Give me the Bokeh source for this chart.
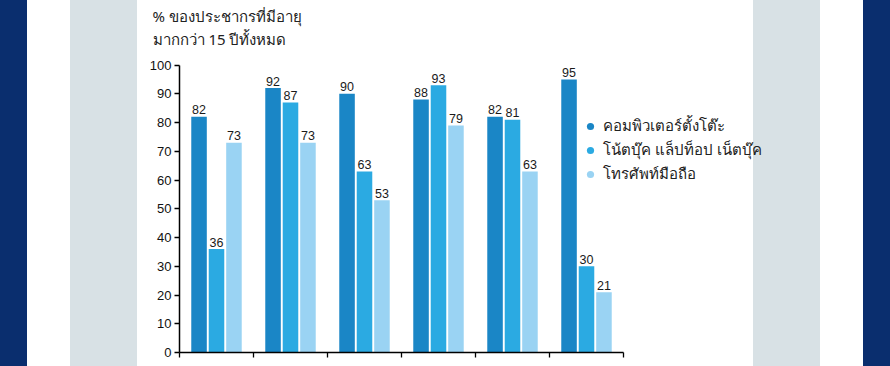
from bokeh.plotting import figure
from bokeh.models import (ColumnDataSource, FixedTicker, Legend, LegendItem, Title,
                          GlobalInlineStyleSheet, Range1d, CustomLabelingPolicy)
from bokeh.core.properties import value
from bokeh.embed import file_html
from bokeh.resources import INLINE

# ---- data ----
groups = ["1", "2", "3", "4", "5", "6"]          # category labels are cut off in the reference
series_names = ["คอมพิวเตอร์ตั้งโต๊ะ", "โน้ตบุ๊ค แล็ปท็อป เน็ตบุ๊ค", "โทรศัพท์มือถือ"]
desktop = [82, 92, 90, 88, 82, 95]
notebook = [36, 87, 63, 93, 81, 30]
mobile = [73, 73, 53, 79, 63, 21]
y_ticks = [0, 10, 20, 30, 40, 50, 60, 70, 80, 90, 100]
title_lines = ["% ของประชากรที่มีอายุ", "มากกว่า 15 ปีทั้งหมด"]

colors = ["#1a86c6", "#2baae2", "#9ad3f3"]
offsets = [-0.236, 0.0, 0.236]
bar_w = 0.21

W, H = 880, 362
px_per_cat = 74.0
frame_left = 179
frame_bottom = 352
frame_top = 50.4        # top of frame below the two title lines
px_per_unit = 2.87
x_end = (W - frame_left) / px_per_cat
y_end = (frame_bottom - frame_top) / px_per_unit

css = ("body{background:linear-gradient(to right,#0a2e6e 0px,#0a2e6e 27px,#ffffff 27px,#ffffff 70px,"
       "#d8e1e5 70px,#d8e1e5 137px,#ffffff 137px,#ffffff 753px,#d8e1e5 753px,#d8e1e5 820px,"
       "#ffffff 820px,#ffffff 863px,#0a2e6e 863px);}")

p = figure(width=W, height=H, output_backend="svg", toolbar_location=None,
           x_range=Range1d(0, x_end), y_range=Range1d(0, y_end),
           min_border_left=frame_left, min_border_right=0, min_border_top=0,
           min_border_bottom=H - frame_bottom)
p.stylesheets = [GlobalInlineStyleSheet(css=css)]
p.border_fill_color = None
p.background_fill_color = None
p.outline_line_color = None
p.grid.visible = False

font_num = "Liberation Sans"
font_thai = "Noto Sans"

renderers = []
for k, (vals, col) in enumerate(zip([desktop, notebook, mobile], colors)):
    src = ColumnDataSource(dict(
        x=[i + 0.5 + offsets[k] for i in range(len(groups))],
        top=vals,
        lbl=[str(v) for v in vals],
    ))
    p.vbar(x="x", top="top", width=bar_w, source=src, fill_color=col, line_color=None)
    p.text(x="x", y="top", text="lbl", source=src, text_align="center", text_baseline="bottom",
           y_offset=-2.5, text_font=value(font_num), text_font_size="12.5px", text_color="#1a1a1a")
    # zero-size markers: only used to give the legend its round swatches
    r = p.scatter(x="x", y="top", source=src, size=0, marker="circle",
                  fill_color=col, line_color=None)
    renderers.append(r)

legend = Legend(items=[LegendItem(label=n, renderers=[r]) for n, r in zip(series_names, renderers)],
                location=(402, 166), orientation="vertical",
                glyph_width=18, glyph_height=18, label_height=18, spacing=0,
                label_standoff=4, padding=0, margin=0,
                border_line_color=None, background_fill_alpha=0,
                label_text_font=font_thai, label_text_font_size="15px", label_text_color="#222222")
p.add_layout(legend)

# axes
ya = p.yaxis[0]
ya.ticker = FixedTicker(ticks=y_ticks)
ya.bounds = (0, 100)
ya.axis_line_color = "#000000"
ya.axis_line_width = 1.5
ya.major_tick_line_color = "#000000"
ya.major_tick_line_width = 1.3
ya.major_tick_in = 0
ya.major_tick_out = 5
ya.minor_tick_line_color = None
ya.major_label_standoff = 3
ya.major_label_text_font = font_num
ya.major_label_text_font_size = "13px"
ya.major_label_text_color = "#111111"

xa = p.xaxis[0]
xa.ticker = FixedTicker(ticks=list(range(len(groups) + 1)))
xa.bounds = (0, len(groups))
xa.axis_line_color = "#000000"
xa.axis_line_width = 1.5
xa.major_tick_line_color = "#000000"
xa.major_tick_line_width = 1.3
xa.major_tick_in = 0
xa.major_tick_out = 5
xa.minor_tick_line_color = None
xa.major_label_standoff = 0
xa.major_label_text_font_size = "0px"
# category names lie below the visible area in the reference: draw none
xa.major_label_policy = CustomLabelingPolicy(code="return new Set()")

# two-line y-axis title at the top left (second line is nearest the frame)
t2 = Title(text=title_lines[1], align="left", offset=152 - frame_left, standoff=0,
           vertical_align="top",
           text_font=font_thai, text_font_size="15px", text_font_style="normal",
           text_color="#222222")
t1 = Title(text=title_lines[0], align="left", offset=152 - frame_left, standoff=6,
           text_font=font_thai, text_font_size="15px", text_font_style="normal",
           text_color="#222222")
p.add_layout(t2, "above")
p.add_layout(t1, "above")

open("out.html", "w").write(file_html(p, INLINE))
